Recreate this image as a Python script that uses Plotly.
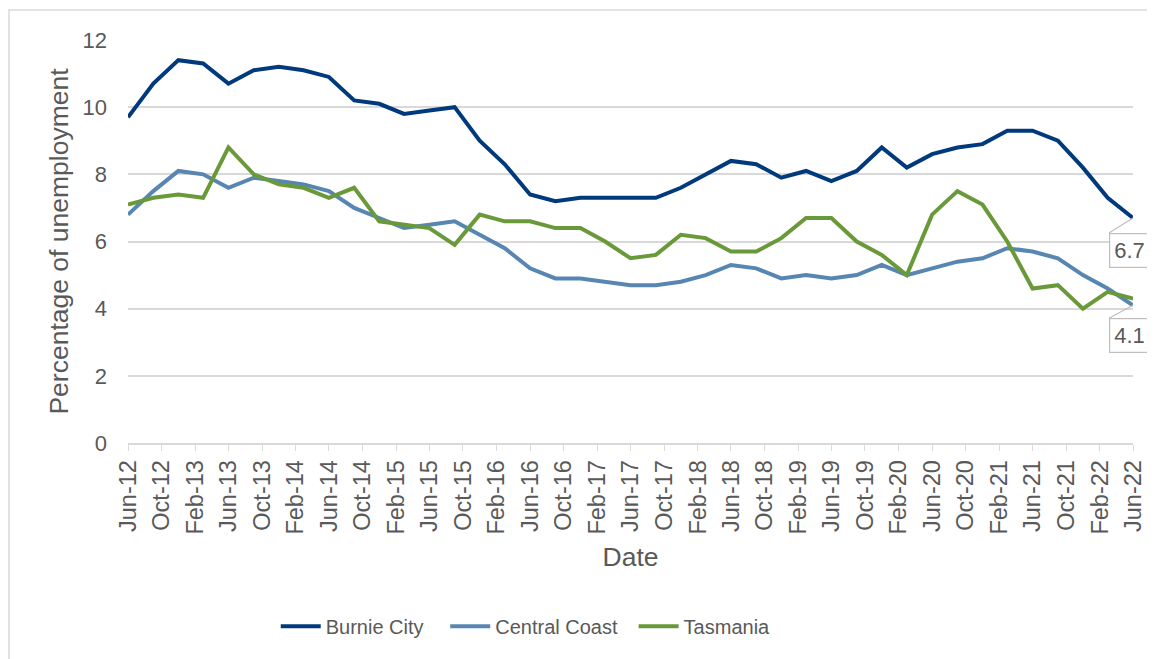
"""Unemployment rate, Burnie City vs Central Coast vs Tasmania, Jun-12 to Jun-22."""
import pandas as pd
import plotly.graph_objects as go

INK = "#595959"
GRID = "#D9D9D9"
FONT = "Liberation Sans, Arial, sans-serif"
NB = "\u00a0"

# quarterly observations, Jun-12 .. Jun-22
DATES = pd.date_range("2012-06-01", "2022-06-01", freq="3MS")

BURNIE = [
    9.7, 10.7, 11.4, 11.3, 10.7, 11.1, 11.2, 11.1, 10.9, 10.2,
    10.1, 9.8, 9.9, 10.0, 9.0, 8.3, 7.4, 7.2, 7.3, 7.3,
    7.3, 7.3, 7.6, 8.0, 8.4, 8.3, 7.9, 8.1, 7.8, 8.1,
    8.8, 8.2, 8.6, 8.8, 8.9, 9.3, 9.3, 9.0, 8.2, 7.3,
    6.7,
]
CENTRAL_COAST = [
    6.8, 7.5, 8.1, 8.0, 7.6, 7.9, 7.8, 7.7, 7.5, 7.0,
    6.7, 6.4, 6.5, 6.6, 6.2, 5.8, 5.2, 4.9, 4.9, 4.8,
    4.7, 4.7, 4.8, 5.0, 5.3, 5.2, 4.9, 5.0, 4.9, 5.0,
    5.3, 5.0, 5.2, 5.4, 5.5, 5.8, 5.7, 5.5, 5.0, 4.6,
    4.1,
]
TASMANIA = [
    7.1, 7.3, 7.4, 7.3, 8.8, 8.0, 7.7, 7.6, 7.3, 7.6,
    6.6, 6.5, 6.4, 5.9, 6.8, 6.6, 6.6, 6.4, 6.4, 6.0,
    5.5, 5.6, 6.2, 6.1, 5.7, 5.7, 6.1, 6.7, 6.7, 6.0,
    5.6, 5.0, 6.8, 7.5, 7.1, 6.0, 4.6, 4.7, 4.0, 4.5,
    4.3,
]

SERIES = [
    ("Burnie City" + NB * 3, BURNIE, "#003A7D"),
    ("Central Coast" + NB * 2, CENTRAL_COAST, "#5886B2"),
    ("Tasmania", TASMANIA, "#6A993A"),
]

fig = go.Figure()
for name, values, color in SERIES:
    fig.add_trace(go.Scatter(
        x=DATES, y=values, name=name, mode="lines",
        line=dict(color=color, width=4),
    ))

# Excel-style callouts on the last value of the two LGAs
for values, ay in [(BURNIE, 15), (CENTRAL_COAST, 13)]:
    fig.add_annotation(
        x=DATES[-1], y=values[-1], text=f"{values[-1]:.1f}",
        showarrow=True, arrowhead=0, arrowwidth=1.2, arrowcolor="#BFBFBF",
        ax=-24, ay=ay, xanchor="left", yanchor="top",
        bgcolor="#FFFFFF", bordercolor="#BFBFBF",
        borderwidth=1.2, borderpad=4,
        font=dict(family=FONT, size=22, color=INK),
    )

# chart-area border
fig.add_shape(
    type="rect", xref="paper", yref="paper",
    x0=-119 / 1005, x1=1.2, y0=-1, y1=1 + 30 / 403,
    line=dict(color=GRID, width=1.5), layer="below",
)

fig.update_layout(
    width=1155, height=659,
    margin=dict(l=120, r=30, t=32, b=224),
    paper_bgcolor="#FFFFFF", plot_bgcolor="#FFFFFF",
    font=dict(family=FONT, size=21, color=INK),
    legend=dict(
        orientation="h", x=0.147, y=-0.455, xanchor="left", yanchor="middle",
        font=dict(size=20, color=INK), itemwidth=40,
    ),
)
fig.update_xaxes(
    type="date", range=[DATES[0], DATES[-1]],
    tick0="2012-06-01", dtick="M4", tickformat="%b-%y", tickangle=-90,
    showgrid=False, showline=True, linecolor=GRID, linewidth=1.5,
    ticks="outside", ticklen=6, tickcolor=GRID,
    tickfont=dict(size=23.5, color=INK),
    title=dict(text="Date", font=dict(size=26.5, color=INK), standoff=14),
)
fig.update_yaxes(
    range=[0, 12], dtick=2, showgrid=True, gridcolor=GRID, gridwidth=1.5,
    zeroline=False, showline=False, ticks="", ticklabelstandoff=20,
    tickfont=dict(size=22, color=INK),
    title=dict(text="Percentage of unemployment", font=dict(size=26.5, color=INK),
               standoff=6),
)

fig.write_html("out.html")
